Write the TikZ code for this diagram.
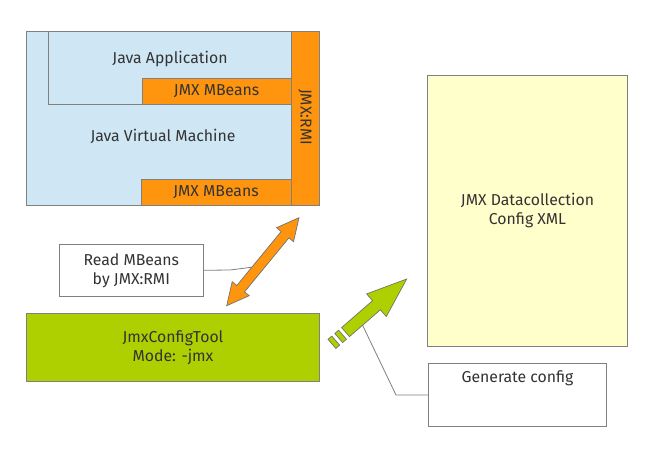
\documentclass[tikz,border=0pt]{standalone}
\usepackage{fontspec}
\setmainfont{Fira Sans}
\usetikzlibrary{calc}
\definecolor{jvmblue}{HTML}{CFE7F5}
\definecolor{jorange}{HTML}{FF950E}
\definecolor{jgreen}{HTML}{AECF00}
\definecolor{jyellow}{HTML}{FFFFCC}
\definecolor{jborder}{HTML}{808080}
\definecolor{jtext}{HTML}{333333}
\tikzset{
  box/.style={draw=jborder, line width=0.9pt, inner sep=0pt, outer sep=0pt, anchor=north west},
  lbl/.style={text=jtext, font=\fontsize{15.8}{19}\selectfont, align=center, inner sep=0pt},
  leader/.style={draw=jborder, line width=0.8pt},
  arrowshape/.style={draw=jborder!90!black, line width=0.7pt, line join=miter},
}
\begin{document}
\begin{tikzpicture}[x=1pt, y=-1pt]
\useasboundingbox[fill=white] (0,0) rectangle (654,450);
% JVM block
\node[box, fill=jvmblue, minimum width=292.6pt, minimum height=174pt] (jvm) at (26.7,31.7) {};
\node[box, fill=jvmblue, minimum width=242.7pt, minimum height=72.3pt] (app) at (48.3,31.7) {};
\node[box, fill=jorange, minimum width=148.7pt, minimum height=26pt] (mb1) at (142.3,78) {};
\node[box, fill=jorange, minimum width=150pt, minimum height=26.4pt] (mb2) at (141,179.3) {};
\node[box, fill=jorange, minimum width=28.3pt, minimum height=174pt] (rmi) at (291,31.7) {};
\node[lbl] (tapp) at (170,59) {Java Application};
\node[lbl] (tjvm) at (163,136) {Java Virtual Machine};
\node[lbl] (tmb1) at (mb1.center) {JMX MBeans};
\node[lbl] (tmb2) at (mb2.center) {JMX MBeans};
\node[lbl, rotate=-90] (trmi) at (305,117) {JMX:RMI};
% Read MBeans
\node[box, minimum width=144pt, minimum height=52pt] (rmb) at (59.3,244.3) {};
\node[lbl] (trmb) at (rmb.center) {Read MBeans\\by JMX:RMI};
% orange double arrow
\coordinate (oa) at (226.7,305.7);
\coordinate (ob) at (299,217.7);
\coordinate (rk) at (230,270);
\draw[leader] (rmb.east) -- (rk) -- ($(oa)!51pt!(ob)$);
\path[arrowshape, fill=jorange] (ob)
  -- ($(ob)!22pt!(oa)!11pt!90:(oa)$)
  -- ($(ob)!22pt!(oa)!5pt!90:(oa)$)
  -- ($(oa)!22pt!(ob)!5pt!-90:(ob)$)
  -- ($(oa)!22pt!(ob)!11pt!-90:(ob)$)
  -- (oa)
  -- ($(oa)!22pt!(ob)!11pt!90:(ob)$)
  -- ($(oa)!22pt!(ob)!5pt!90:(ob)$)
  -- ($(ob)!22pt!(oa)!5pt!-90:(oa)$)
  -- ($(ob)!22pt!(oa)!11pt!-90:(oa)$)
  -- cycle;
% JmxConfigTool
\node[box, fill=jgreen, minimum width=292.6pt, minimum height=68pt] (tool) at (26.7,313.3) {};
\node[lbl] (ttool) at (tool.center) {JmxConfigTool\\Mode: -jmx};
% Yellow XML
\node[box, fill=jyellow, minimum width=200.4pt, minimum height=271.7pt] (xml) at (427.3,75) {};
\node[lbl] (txml) at (xml.center) {JMX Datacollection\\Config XML};
% Generate config
\node[box, minimum width=178.4pt, minimum height=63.4pt] (gen) at (428.3,363.3) {};
\node[lbl, anchor=north] (tgen) at ($(gen.north)+(0,7)$) {Generate config};
% green striped arrow
\coordinate (gp) at (406.7,279);
\coordinate (gt) at (329.5,346);
\coordinate (gk) at (396,395);
\draw[leader] (gen.west) -- (gk) -- ($(gp)!62pt!(gt)$);
\path[arrowshape, fill=jgreen] (gp)
  -- ($(gp)!40pt!(gt)!15pt!90:(gt)$)
  -- ($(gp)!40pt!(gt)!6pt!90:(gt)$)
  -- ($(gp)!81pt!(gt)!6pt!90:(gt)$)
  -- ($(gp)!81pt!(gt)!6pt!-90:(gt)$)
  -- ($(gp)!40pt!(gt)!6pt!-90:(gt)$)
  -- ($(gp)!40pt!(gt)!15pt!-90:(gt)$)
  -- cycle;
\path[arrowshape, fill=jgreen]
     ($(gp)!85pt!(gt)!6pt!90:(gt)$)
  -- ($(gp)!90pt!(gt)!6pt!90:(gt)$)
  -- ($(gp)!90pt!(gt)!6pt!-90:(gt)$)
  -- ($(gp)!85pt!(gt)!6pt!-90:(gt)$)
  -- cycle;
\path[arrowshape, fill=jgreen]
     ($(gp)!94pt!(gt)!6pt!90:(gt)$)
  -- ($(gp)!99pt!(gt)!6pt!90:(gt)$)
  -- ($(gp)!99pt!(gt)!6pt!-90:(gt)$)
  -- ($(gp)!94pt!(gt)!6pt!-90:(gt)$)
  -- cycle;
\end{tikzpicture}
\end{document}
